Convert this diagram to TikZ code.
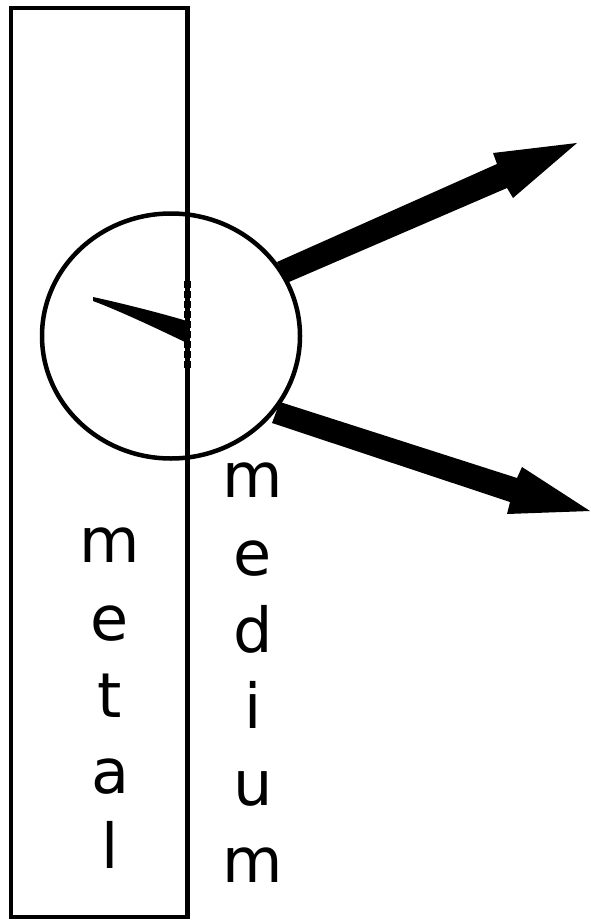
\documentclass[tikz,border=0pt]{standalone}
\usepackage{fontspec}
\setmainfont{DejaVu Sans}
\usetikzlibrary{shapes.geometric}
\begin{document}
\begin{tikzpicture}[x=1pt,y=-1pt,
  letter/.style={anchor=base,inner sep=0pt,font=\fontsize{62}{74}\selectfont},
  outline/.style={draw=black,line width=4.8pt},
  bigarrow/.style={fill=black,draw=none}]
\useasboundingbox (0,0) rectangle (591,920);
% metal slab
\draw[outline] (11,8) rectangle (187.5,917);
% circle
\node[draw,line width=4.5pt,ellipse,minimum width=258pt,minimum height=245pt,inner sep=0pt] (circ) at (171,336) {};
% dashed interface segment
\draw[line width=7pt,dash pattern=on 7pt off 3pt] (187,281) -- (187,370);
% needle
\fill (93,297) .. controls (125,304) and (160,313) .. (187,321)
  -- (187,343) .. controls (160,330) and (120,311) .. (93,301) -- cycle;
% arrows
\fill[bigarrow] (277,262) -- (497,164) -- (493,153) -- (577,143) -- (513,198) -- (507,188) -- (289,282) -- cycle;
\fill[bigarrow] (280,402) -- (517,478) -- (522,467) -- (590,511) -- (507,514) -- (510,502) -- (272,423) -- cycle;
% labels
\foreach \ch/\yy [count=\i] in {m/562,e/640,t/717,a/793,l/868}
  \node[letter] (metal\i) at (110,\yy) {\ch};
\foreach \ch/\yy [count=\i] in {m/497,e/575,d/652,i/728,u/805,m/882}
  \node[letter] (medium\i) at (253,\yy) {\ch};
\end{tikzpicture}
\end{document}
